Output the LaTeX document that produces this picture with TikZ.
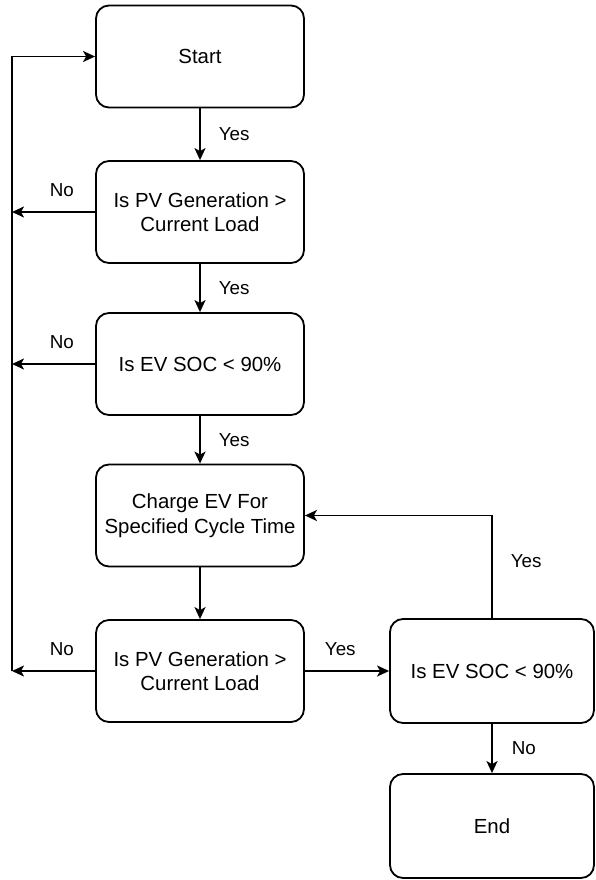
\documentclass[tikz,border=0pt]{standalone}
\usepackage{fontspec}
\setmainfont{Liberation Sans}
\usetikzlibrary{arrows.meta}
\begin{document}
\begin{tikzpicture}[x=1pt, y=-1pt, line width=1.8pt,
                    >={Stealth[length=12pt, width=11pt, inset=3pt]},
                    block/.style={draw, rounded corners=13pt, align=center, inner sep=0pt,
                        minimum width=208pt, minimum height=102pt,
                        font=\fontsize{20.4}{24.5}\selectfont},
                    lbl/.style={inner sep=0pt, font=\fontsize{18.8}{22}\selectfont}]
                    \useasboundingbox (0, 0) rectangle (595, 880);
                    \node[block] at (200, 56.5) (start) {Start};
                    \node[block] at (200, 212) (gen1) {Is PV Generation >\\Current Load};
                    \node[block] at (200, 364) (soc1) {Is EV SOC < 90\%};
                    \node[block] at (200, 515.5) (charge) {Charge EV For\\Specified Cycle Time};
                    \node[block] at (200, 671) (gen2) {Is PV Generation >\\Current Load};
                    \node[block, minimum width=204pt, minimum height=104pt] at (492, 671) (soc2) {Is EV SOC < 90\%};
                    \node[block, minimum width=204pt, minimum height=104pt] at (492, 826) (finish) {End};
                    \coordinate (back) at (12, 671);

                    \path[->]
                        (start) edge node[lbl, right=18pt] {Yes} (gen1)
                        (gen1) edge node[lbl, right=18pt] {Yes} (soc1)
                        (soc1) edge node[lbl, right=18pt] {Yes} (charge)
                        (charge) edge (gen2)
                        (gen2) edge node[lbl, above=14pt, pos=0.42] {Yes} (soc2)
                        (soc2) edge node[lbl, right=19pt] {No} (finish)
                        (gen1) edge node[lbl, above=14pt, pos=0.4] {No} (gen1 -| back)
                        (soc1) edge node[lbl, above=14pt, pos=0.4] {No} (soc1 -| back)
                        (gen2) edge node[lbl, above=14pt, pos=0.4] {No} (back);
                    \draw[->] (soc2) |- node[lbl, right=18pt, pos=0.28] {Yes} (charge);
                    \draw[->] (back) |- (start);
                \end{tikzpicture}
\end{document}
